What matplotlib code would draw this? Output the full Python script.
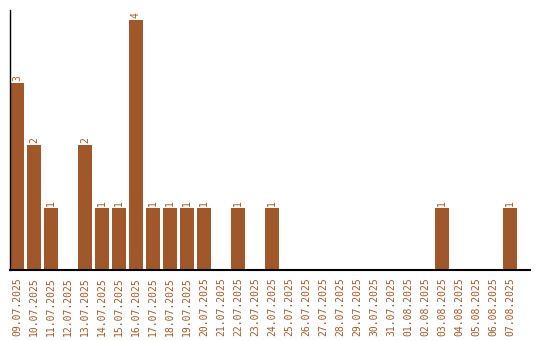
import matplotlib
matplotlib.use("Agg")
import matplotlib.pyplot as plt

dates = ["09.07.2025", "10.07.2025", "11.07.2025", "12.07.2025", "13.07.2025",
         "14.07.2025", "15.07.2025", "16.07.2025", "17.07.2025", "18.07.2025",
         "19.07.2025", "20.07.2025", "21.07.2025", "22.07.2025", "23.07.2025",
         "24.07.2025", "25.07.2025", "26.07.2025", "27.07.2025", "28.07.2025",
         "29.07.2025", "30.07.2025", "31.07.2025", "01.08.2025", "02.08.2025",
         "03.08.2025", "04.08.2025", "05.08.2025", "06.08.2025", "07.08.2025"]
counts = [3, 2, 1, 0, 2, 1, 1, 4, 1, 1,
          1, 1, 0, 1, 0, 1, 0, 0, 0, 0,
          0, 0, 0, 0, 0, 1, 0, 0, 0, 1]

color = "#a0582a"
plt.rcParams['font.family'] = ['DejaVu Sans Mono']

fig = plt.figure(figsize=(5.4, 3.4), dpi=100)
ax = fig.add_axes([10 / 540, 70 / 340, 520 / 540, 260 / 340])

x = list(range(len(dates)))
ax.bar(x, counts, width=0.82, color=color)

# value labels above the bars
for i, v in enumerate(counts):
    if v > 0:
        ax.text(i, v + 0.03, str(v), rotation=90, ha='center', va='bottom',
                fontsize=7, color=color)

ax.set_xticks(x)
ax.set_xticklabels(dates, rotation=90, fontsize=7, color=color)
ax.tick_params(axis='x', length=0, pad=5)
ax.set_yticks([])
ax.set_xlim(-0.41, 30.18)
ax.set_ylim(0, 4.16)

for side in ['top', 'right']:
    ax.spines[side].set_visible(False)
ax.spines['left'].set_linewidth(1)
ax.spines['bottom'].set_linewidth(1.5)

fig.savefig("out.png", dpi=100)
